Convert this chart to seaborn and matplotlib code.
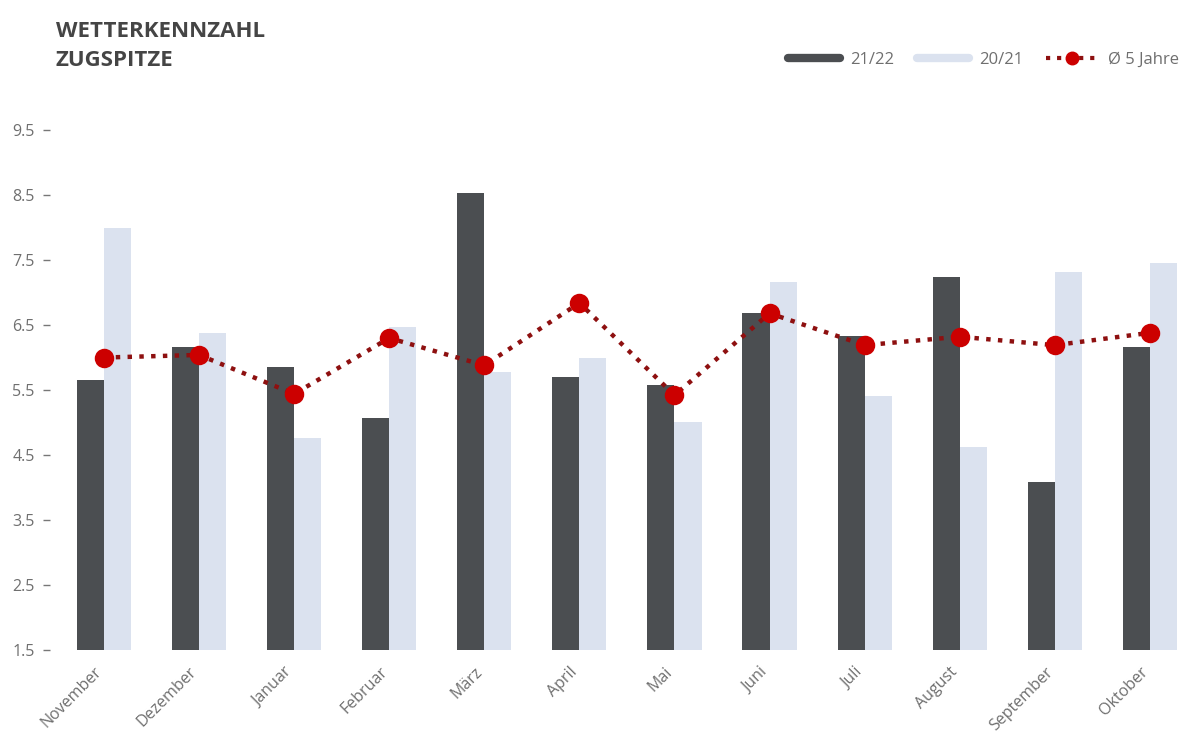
import matplotlib
matplotlib.use("Agg")
import matplotlib.pyplot as plt
import matplotlib.transforms as mtransforms
from matplotlib.lines import Line2D
import pandas as pd
import seaborn as sns

# Monthly weather index values per season
monate = ["November", "Dezember", "Januar", "Februar", "März", "April",
          "Mai", "Juni", "Juli", "August", "September", "Oktober"]
saison_2122 = [5.65, 6.16, 5.85, 5.07, 8.53, 5.70, 5.58, 6.68, 6.33, 7.24, 4.08, 6.16]
saison_2021 = [8.00, 6.38, 4.76, 6.47, 5.78, 5.99, 5.01, 7.16, 5.41, 4.62, 7.32, 7.45]
schnitt_5j = [6.00, 6.04, 5.44, 6.30, 5.88, 6.84, 5.42, 6.68, 6.19, 6.32, 6.19, 6.38]
y_ticks = [1.5, 2.5, 3.5, 4.5, 5.5, 6.5, 7.5, 8.5, 9.5]

farbe_2122 = "#4b4e51"
farbe_2021 = "#dbe2ef"
farbe_linie = "#8e1010"
farbe_punkt = "#cc0000"
grau = "#6f6f6f"

sns.set_theme(style="white")
plt.rcParams["font.family"] = ["Open Sans", "DejaVu Sans"]

bars = pd.DataFrame({
    "Monat": monate * 2,
    "Wert": saison_2122 + saison_2021,
    "Saison": ["21/22"] * len(monate) + ["20/21"] * len(monate),
})
linie = pd.DataFrame({"Monat": monate, "Wert": schnitt_5j})

fig = plt.figure(figsize=(11.86, 7.33), dpi=100)
ax = fig.add_axes([0.042, 0.1132, 0.958, 0.7094])

sns.barplot(data=bars, x="Monat", y="Wert", hue="Saison", order=monate,
            hue_order=["21/22", "20/21"],
            palette={"21/22": farbe_2122, "20/21": farbe_2021},
            width=0.57, saturation=1, errorbar=None, legend=False,
            linewidth=0, edgecolor="none", ax=ax)

sns.pointplot(data=linie, x="Monat", y="Wert", order=monate,
              color=farbe_linie, linestyles=":", markers="o",
              errorbar=None, ax=ax)
pl = ax.lines[-1]
pl.set_linewidth(3.2)
pl.set_markersize(12)
pl.set_markerfacecolor(farbe_punkt)
pl.set_markeredgecolor(farbe_punkt)
pl.set_zorder(5)

ax.set_xlim(-0.57, 11.38)
ax.set_ylim(1.5, 9.5)
ax.set_yticks(y_ticks)
ax.set_yticklabels([f"{v:.1f}" for v in y_ticks])
ax.set_xlabel("")
ax.set_ylabel("")
for s in ax.spines.values():
    s.set_visible(False)

ax.tick_params(axis="y", left=True, length=5, width=1, color="#777777",
               labelsize=11.5, labelcolor=grau, pad=6)
ax.tick_params(axis="x", bottom=False, labelsize=11.5, labelcolor=grau, pad=4)
plt.setp(ax.get_xticklabels(), rotation=45, ha="right", rotation_mode="anchor")
verschiebung = mtransforms.ScaledTranslation(-10 / 100, 0, fig.dpi_scale_trans)
for lbl in ax.get_xticklabels():
    lbl.set_transform(lbl.get_transform() + verschiebung)

fig.text(0.047, 0.972, "WETTERKENNZAHL\nZUGSPITZE", ha="left", va="top",
         fontsize=16, fontweight="bold", color="#454545", linespacing=1.5)

handles = [
    Line2D([0], [0], color=farbe_2122, linewidth=6),
    Line2D([0], [0], color=farbe_2021, linewidth=6),
    Line2D([0], [0], color=farbe_linie, linestyle=":", linewidth=3,
           marker="o", markersize=9, markerfacecolor=farbe_punkt,
           markeredgecolor=farbe_punkt),
]
fig.legend(handles, ["21/22", "20/21", "Ø 5 Jahre"], ncol=3,
           loc="center left", bbox_to_anchor=(0.652, 0.918), frameon=False,
           fontsize=12, labelcolor=grau, handlelength=3.1, columnspacing=1.4,
           handletextpad=0.6)

fig.savefig("out.png", dpi=100)
